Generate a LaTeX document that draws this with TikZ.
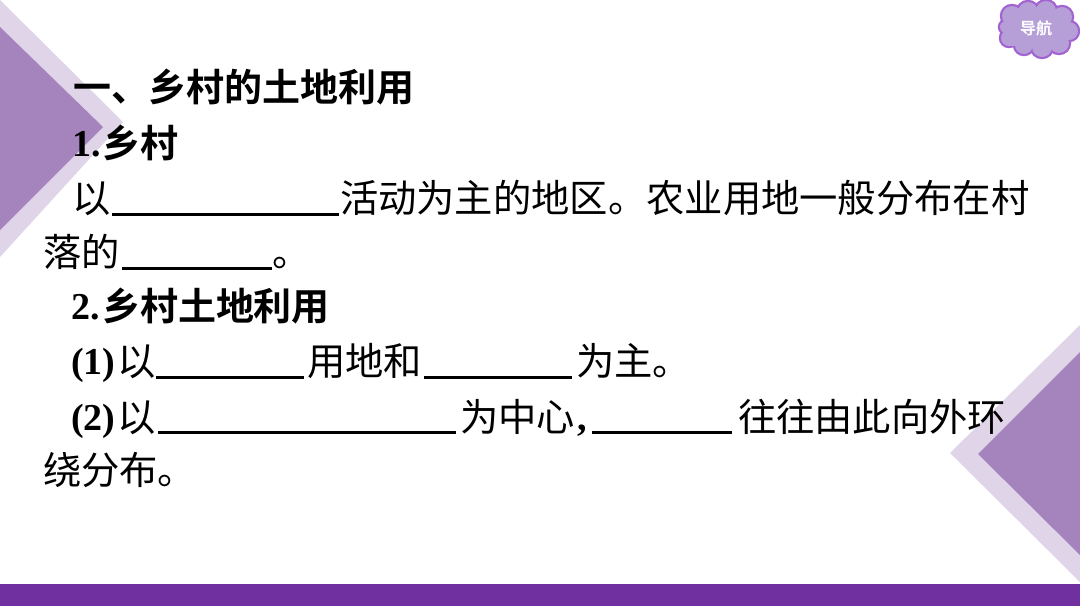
\documentclass[tikz,border=0pt]{standalone}
\usepackage{fontspec}
\setmainfont{Liberation Serif}
\newfontfamily\cjk{Noto Sans CJK SC}
\newfontfamily\cjkb{Noto Sans CJK SC Bold}
\definecolor{barP}{HTML}{7030A0}
\definecolor{lightP}{HTML}{DFD4E8}
\definecolor{darkP}{HTML}{A584BE}
\definecolor{cloudF}{HTML}{B59FD6}
\definecolor{cloudS}{HTML}{A262D2}
\tikzset{
  x=1pt,y=-1pt,
  txt/.style={anchor=base west,inner sep=0pt,outer sep=0pt,font=\fontsize{38.3}{38.3}\selectfont\cjk,text=black},
  btxt/.style={txt,font=\fontsize{38}{38}\selectfont\cjkb},
  lat/.style={anchor=base west,inner sep=0pt,outer sep=0pt,font=\fontsize{38}{38}\selectfont\bfseries,text=black},
  blank/.style={line width=3pt,black}
}
\begin{document}
\begin{tikzpicture}
\useasboundingbox (0,0) rectangle (1080,606);
\fill[white] (0,0) rectangle (1080,606);
% corner triangles
\fill[lightP] (0,0) -- (123,122) -- (0,257) -- cycle;
\fill[darkP] (0,27) -- (103,127) -- (0,230) -- cycle;
\fill[lightP] (1080,325) -- (950,453) -- (1080,582) -- cycle;
\fill[darkP] (1080,352) -- (978,454) -- (1080,555) -- cycle;
\fill[barP] (0,584) rectangle (1080,606);
% cloud
\foreach \x/\y/\r in {1012/16/10,1028/12/10,1046/11/10,1062/17/10,1069/31/9,1059/43/10,1042/47/10,1024/45/9,1009/38/8,1006/27/6}
  \draw[cloudS,line width=4.4pt,fill=cloudF] (\x,\y) circle (\r);
\foreach \x/\y/\r in {1012/16/10,1028/12/10,1046/11/10,1062/17/10,1069/31/9,1059/43/10,1042/47/10,1024/45/9,1009/38/8,1006/27/6}
  \fill[cloudF] (\x,\y) circle (\r);
\fill[cloudF] (1010,14) rectangle (1066,46);
\node[anchor=center,inner sep=0pt,text=white,font=\fontsize{16}{16}\selectfont\cjkb] (nav) at (1036,28) {导航};
% text
\node[btxt] (t1) at (73,101) {一、乡村的土地利用};
\node[lat] (n1) at (72,156) {1.};
\node[btxt] (t2) at (102,157) {乡村};
\node[txt] (t3a) at (72,212) {以};
\draw[blank] (112,214) -- (339,214);
\node[txt] (t3b) at (340,212) {活动为主的地区。农业用地一般分布在村};
\node[txt] (t4a) at (43,266) {落的};
\draw[blank] (122,268) -- (272,268);
\node[txt] (t4b) at (272,266) {。};
\node[lat] (n2) at (71,319) {2.};
\node[btxt] (t5) at (102,320) {乡村土地利用};
\node[lat] (n3) at (71,374) {(1)};
\node[txt] (t6a) at (117,375) {以};
\draw[blank] (156,377) -- (304,377);
\node[txt] (t6b) at (307,375) {用地和};
\draw[blank] (424,377) -- (572,377);
\node[txt] (t6c) at (576,375) {为主。};
\node[lat] (n4) at (71,430) {(2)};
\node[txt] (t7a) at (117,431) {以};
\draw[blank] (158,432) -- (456,432);
\node[txt] (t7b) at (460,431) {为中心};
\node[lat] (c1) at (577,430) {,};
\draw[blank] (592,432) -- (732,432);
\node[txt] (t7c) at (738,431) {往往由此向外环};
\node[txt] (t8) at (43,484) {绕分布。};
\end{tikzpicture}
\end{document}
